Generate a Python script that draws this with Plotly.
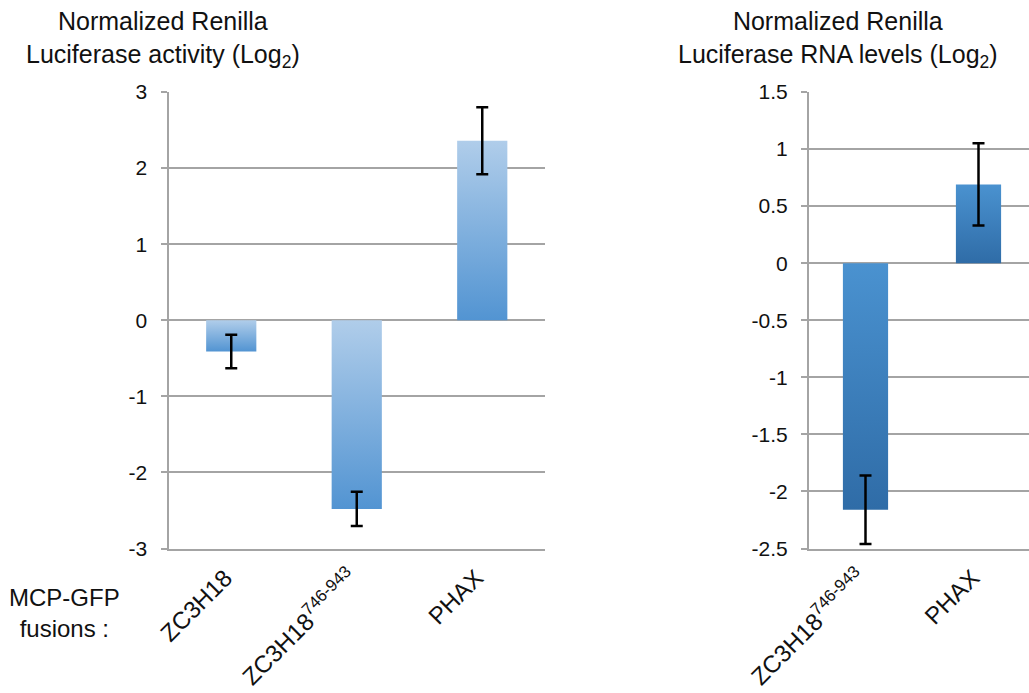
import plotly.graph_objects as go

# ---- data ----
left_categories = ["ZC3H18", "ZC3H18<sup>746-943</sup>", "PHAX"]
left_values = [-0.41, -2.48, 2.36]
left_errors = [0.22, 0.225, 0.44]
left_tickvals = [3, 2, 1, 0, -1, -2, -3]
left_ticktext = ["3", "2", "1", "0", "-1", "-2", "-3"]

right_categories = ["ZC3H18<sup>746-943</sup>", "PHAX"]
right_values = [-2.16, 0.69]
right_errors = [0.30, 0.36]
right_tickvals = [1.5, 1, 0.5, 0, -0.5, -1, -1.5, -2, -2.5]
right_ticktext = ["1.5", "1", "0.5", "0", "-0.5", "-1", "-1.5", "-2", "-2.5"]

left_title = "Normalized Renilla<br>Luciferase activity (Log<sub>2</sub>)"
right_title = "Normalized Renilla<br>Luciferase RNA levels (Log<sub>2</sub>)"
row_label = "MCP-GFP<br>fusions :"

# ---- style ----
W, H = 1029, 693
FONT = "Liberation Sans, Arial, Helvetica, sans-serif"
GRID = "#a4a4a4"
BAR_W = 0.4
left_scale = [[0, "#5294d2"], [1, "#b0cdea"]]
right_scale = [[0, "#2f6ca7"], [1, "#4a92d0"]]

fig = go.Figure()


def add_bars(values, errors, xa, ya, scale):
    for i, v in enumerate(values):
        fig.add_trace(go.Scatter(
            x=[i - BAR_W / 2, i + BAR_W / 2, i + BAR_W / 2, i - BAR_W / 2, i - BAR_W / 2],
            y=[0, 0, v, v, 0],
            mode="none", fill="toself",
            fillgradient=dict(type="vertical", colorscale=scale),
            xaxis=xa, yaxis=ya, showlegend=False, hoverinfo="skip",
        ))
    fig.add_trace(go.Scatter(
        x=list(range(len(values))), y=values, mode="markers",
        marker=dict(size=1, opacity=0),
        error_y=dict(type="data", array=errors, visible=True,
                     color="black", thickness=2.5, width=6),
        xaxis=xa, yaxis=ya, showlegend=False,
    ))


add_bars(left_values, left_errors, "x", "y", left_scale)
add_bars(right_values, right_errors, "x2", "y2", right_scale)

y_top = 1 - 92 / H
y_bot = 1 - 548.5 / H

common_y = dict(
    showgrid=True, gridcolor=GRID, gridwidth=2,
    showline=True, linecolor=GRID, linewidth=2,
    ticks="outside", ticklen=6, tickcolor=GRID, tickwidth=2,
    zeroline=False, ticklabelstandoff=9, automargin=False,
    tickfont=dict(size=21, color="#111111", family=FONT),
    domain=[y_bot, y_top],
)
common_x = dict(
    showgrid=False, zeroline=False, showline=True, linecolor=GRID, linewidth=2,
    ticks="", automargin=False, ticklabelstandoff=4, ticklabelshift=-6,
    tickangle=-45, tickfont=dict(size=24, color="#111111", family=FONT),
)

fig.update_layout(
    width=W, height=H,
    margin=dict(l=0, r=0, t=0, b=0, autoexpand=False),
    paper_bgcolor="white", plot_bgcolor="white",
    font=dict(family=FONT, color="#111111"),
    xaxis=dict(**common_x, domain=[168.5 / W, 545 / W], range=[-0.5, 2.5],
               tickvals=list(range(len(left_categories))), ticktext=left_categories,
               anchor="y"),
    yaxis=dict(**common_y, range=[-3, 3], tickvals=left_tickvals,
               ticktext=left_ticktext, anchor="x"),
    xaxis2=dict(**common_x, domain=[809 / W, 1.0],
                range=[-0.5, -0.5 + (W - 809) / 113.0],
                tickvals=list(range(len(right_categories))), ticktext=right_categories,
                anchor="y2"),
    yaxis2=dict(**common_y, range=[-2.5, 1.5], tickvals=right_tickvals,
                ticktext=right_ticktext, anchor="x2"),
    annotations=[
        dict(text=left_title, x=163 / W, y=1 - 5 / H, xref="paper", yref="paper",
             xanchor="center", yanchor="top", showarrow=False, align="center",
             font=dict(size=25, family=FONT, color="#111111")),
        dict(text=right_title, x=838 / W, y=1 - 5 / H, xref="paper", yref="paper",
             xanchor="center", yanchor="top", showarrow=False, align="center",
             font=dict(size=25, family=FONT, color="#111111")),
        dict(text=row_label, x=64 / W, y=1 - 613 / H, xref="paper", yref="paper",
             xanchor="center", yanchor="middle", showarrow=False, align="center",
             font=dict(size=24, family=FONT, color="#111111")),
    ],
)

fig.write_html("out.html")
